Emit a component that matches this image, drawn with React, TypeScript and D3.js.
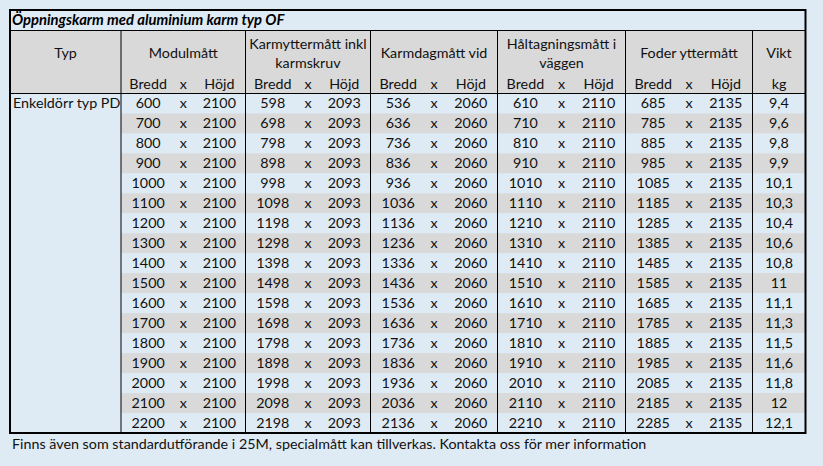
import React from "react";
import * as d3 from "d3";

const title = "Öppningskarm med aluminium karm typ OF";
const typLabel = "Typ";
const typValue = "Enkeldörr typ PD";
const footer = "Finns även som standardutförande i 25M, specialmått kan tillverkas. Kontakta oss för mer information";

const groupHeaders: string[][] = [
  ["Modulmått"],
  ["Karmyttermått inkl", "karmskruv"],
  ["Karmdagmått vid"],
  ["Håltagningsmått i", "väggen"],
  ["Foder yttermått"],
];
const subLabels = ["Bredd", "x", "Höjd"];
const viktHeader = "Vikt";
const viktUnit = "kg";

const modulBredd = [600, 700, 800, 900, 1000, 1100, 1200, 1300, 1400, 1500, 1600, 1700, 1800, 1900, 2000, 2100, 2200];
const karmytterBredd = [598, 698, 798, 898, 998, 1098, 1198, 1298, 1398, 1498, 1598, 1698, 1798, 1898, 1998, 2098, 2198];
const karmdagBredd = [536, 636, 736, 836, 936, 1036, 1136, 1236, 1336, 1436, 1536, 1636, 1736, 1836, 1936, 2036, 2136];
const haltagBredd = [610, 710, 810, 910, 1010, 1110, 1210, 1310, 1410, 1510, 1610, 1710, 1810, 1910, 2010, 2110, 2210];
const foderBredd = [685, 785, 885, 985, 1085, 1185, 1285, 1385, 1485, 1585, 1685, 1785, 1885, 1985, 2085, 2185, 2285];
const hojd = [2100, 2093, 2060, 2110, 2135];
const vikt = ["9,4", "9,6", "9,8", "9,9", "10,1", "10,3", "10,4", "10,6", "10,8", "11", "11,1", "11,3", "11,5", "11,6", "11,8", "12", "12,1"];

const breddCols = [modulBredd, karmytterBredd, karmdagBredd, haltagBredd, foderBredd];

const W = 823, H = 466;
const BG = "#deeaf4";
const GREY = "#d9d9d9";
const FONT = "Lato, 'Open Sans', sans-serif";
const FS = 14.3;

const left = 10, right = 805.5, top = 10, titleBottom = 30.5, headerBottom = 93.5, bottom = 433;
const groupEdges = [121, 245.5, 370.5, 497.5, 625.5, 752.5];

export default function App() {
  const n = modulBredd.length;
  const y = d3.scaleBand<number>().domain(d3.range(n)).range([headerBottom, bottom]).paddingInner(0).paddingOuter(0);
  const groups = d3.range(5).map((g) => {
    const x0 = groupEdges[g], x1 = groupEdges[g + 1];
    const sub = d3.scaleLinear().domain([0, 1]).range([x0, x1]);
    return { x0, x1, cx: (x0 + x1) / 2, sb: sub(0.218), sx: sub(0.5), sh: sub(0.79) };
  });
  const viktCx = (groupEdges[5] + right) / 2;
  const textBase = (yy: number) => yy + y.bandwidth() / 2 + 5;

  return (
    <svg width={W} height={H} style={{ position: "fixed", left: 0, top: 0 }} fontFamily={FONT} fontSize={FS}>
      <rect x={0} y={0} width={W} height={H} fill={BG} />
      {/* header background */}
      <rect x={left} y={titleBottom} width={right - left} height={headerBottom - titleBottom} fill={GREY} />
      {/* data rows */}
      {d3.range(n).map((i) => (
        <rect key={"r" + i} x={groupEdges[0]} y={y(i)!} width={right - groupEdges[0]} height={y.bandwidth()} fill={i % 2 === 1 ? GREY : BG} />
      ))}
      {/* title */}
      <text x={12} y={25} fontWeight="bold" fontStyle="italic" fontSize={14.8} fill="#000">{title}</text>
      {/* Typ header */}
      <text x={(left + groupEdges[0]) / 2} y={58} textAnchor="middle" fill="#111">{typLabel}</text>
      <text x={13} y={textBase(y(0)!)} fill="#111">{typValue}</text>
      {/* group headers */}
      {groups.map((g, gi) => (
        <g key={"h" + gi}>
          {groupHeaders[gi].length === 1 ? (
            <text x={g.cx} y={58} textAnchor="middle" fill="#111">{groupHeaders[gi][0]}</text>
          ) : (
            groupHeaders[gi].map((t, k) => (
              <text key={k} x={g.cx} y={49 + k * 19} textAnchor="middle" fill="#111">{t}</text>
            ))
          )}
          <text x={g.sb} y={89} textAnchor="middle" fill="#111">{subLabels[0]}</text>
          <text x={g.sx} y={89} textAnchor="middle" fill="#111">{subLabels[1]}</text>
          <text x={g.sh} y={89} textAnchor="middle" fill="#111">{subLabels[2]}</text>
          {breddCols[gi].map((v, i) => (
            <g key={i}>
              <text x={g.sb} y={textBase(y(i)!)} textAnchor="middle" fill="#111">{v}</text>
              <text x={g.sx} y={textBase(y(i)!)} textAnchor="middle" fill="#111">x</text>
              <text x={g.sh} y={textBase(y(i)!)} textAnchor="middle" fill="#111">{hojd[gi]}</text>
            </g>
          ))}
        </g>
      ))}
      <text x={viktCx} y={58} textAnchor="middle" fill="#111">{viktHeader}</text>
      <text x={viktCx} y={89} textAnchor="middle" fill="#111">{viktUnit}</text>
      {vikt.map((v, i) => (
        <text key={"v" + i} x={viktCx} y={textBase(y(i)!)} textAnchor="middle" fill="#111">{v}</text>
      ))}
      {/* lines */}
      <line x1={left} x2={right} y1={titleBottom} y2={titleBottom} stroke="#000" strokeWidth={1} />
      <line x1={left} x2={right} y1={headerBottom} y2={headerBottom} stroke="#000" strokeWidth={1} />
      {groupEdges.map((ex, i) => (
        <line key={"e" + i} x1={ex} x2={ex} y1={titleBottom} y2={bottom} stroke="#000" strokeWidth={1} />
      ))}
      <rect x={left} y={top} width={right - left} height={bottom - top} fill="none" stroke="#000" strokeWidth={2} />
      <text x={12} y={449} fill="#111">{footer}</text>
    </svg>
  );
}
